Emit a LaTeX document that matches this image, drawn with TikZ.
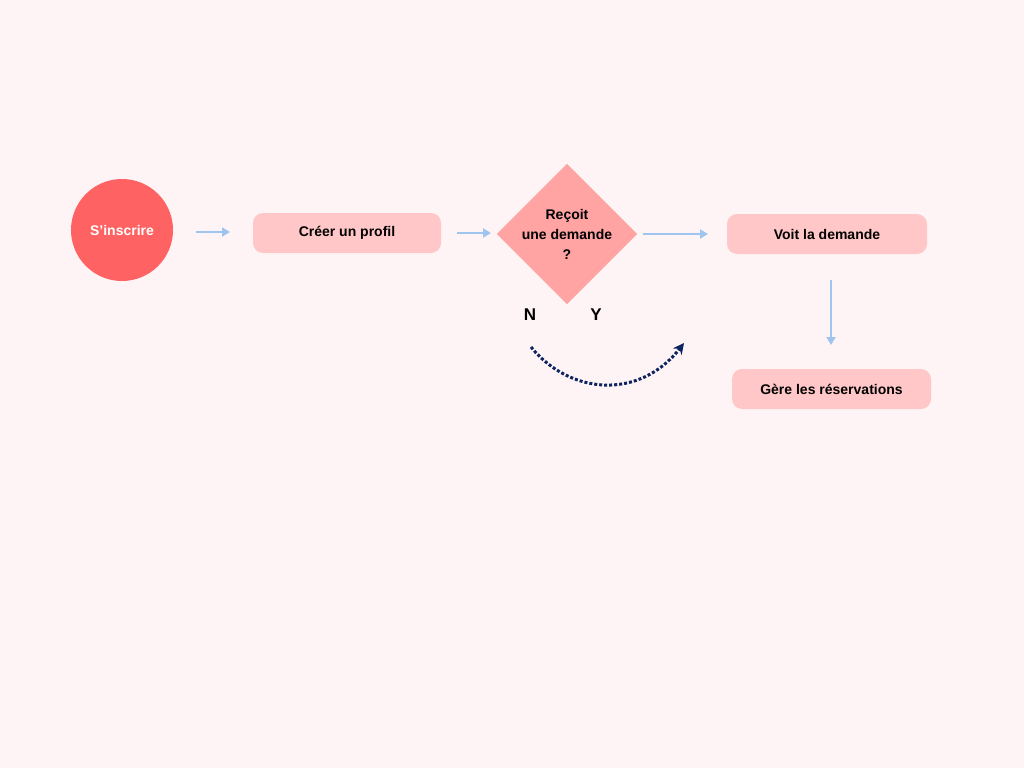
\documentclass[tikz,border=0pt]{standalone}
\usepackage{fontspec}
\setmainfont{Liberation Sans}
\usetikzlibrary{shapes.geometric,arrows.meta}
\definecolor{bg}{HTML}{FFF4F5}
\definecolor{boxc}{HTML}{FFC7C7}
\definecolor{diac}{HTML}{FFA3A3}
\definecolor{circc}{HTML}{FF6262}
\definecolor{arr}{HTML}{9FC5EE}
\definecolor{navy}{HTML}{0D2461}
\begin{document}
\begin{tikzpicture}[x=1pt,y=-1pt,
  box/.style={draw=none,fill=boxc,rounded corners=10pt,font=\bfseries\fontsize{14}{17}\selectfont,inner sep=0pt},
  flow/.style={draw=arr,line width=2pt,-{Triangle[length=8pt,width=9pt]}},
  lab/.style={font=\bfseries\fontsize{17}{20}\selectfont}]
\fill[bg] (0,0) rectangle (1024,768);
\useasboundingbox (0,0) rectangle (1024,768);
\node[circle,fill=circc,minimum size=102pt,inner sep=0pt,text=white,font=\bfseries\fontsize{14}{17}\selectfont] (s) at (122,230) {S’inscrire};
\node[box,minimum width=188pt,minimum height=40pt] (p) at (347,233) {Créer un profil};
\node[diamond,fill=diac,minimum width=112pt,minimum height=112pt,inner sep=0pt,align=center,font=\bfseries\fontsize{14}{20}\selectfont] (d) at (567,234) {Reçoit\\une demande\\?};
\node[box,minimum width=200pt,minimum height=40pt] (v) at (827,234) {Voit la demande};
\node[box,minimum width=199pt,minimum height=40pt] (g) at (831.5,389) {Gère les réservations};
\node[lab] (n) at (530,315) {N};
\node[lab] (y) at (596,315) {Y};
\coordinate (a1) at (196,232); \coordinate (a2) at (230,232);
\coordinate (b1) at (457,233); \coordinate (b2) at (491,233);
\coordinate (c1) at (643,234); \coordinate (c2) at (708,234);
\coordinate (e1) at (831,280); \coordinate (e2) at (831,345);
\coordinate (f1) at (531,347); \coordinate (f2) at (684,343);
\draw[flow] (a1) -- (a2);
\draw[flow] (b1) -- (b2);
\draw[flow] (c1) -- (c2);
\draw[flow] (e1) -- (e2);
\draw[navy,line width=3pt,dotted,-{Stealth[length=11pt,width=11pt]}] (f1) .. controls (570,395) and (640,400) .. (f2);
\end{tikzpicture}
\end{document}
